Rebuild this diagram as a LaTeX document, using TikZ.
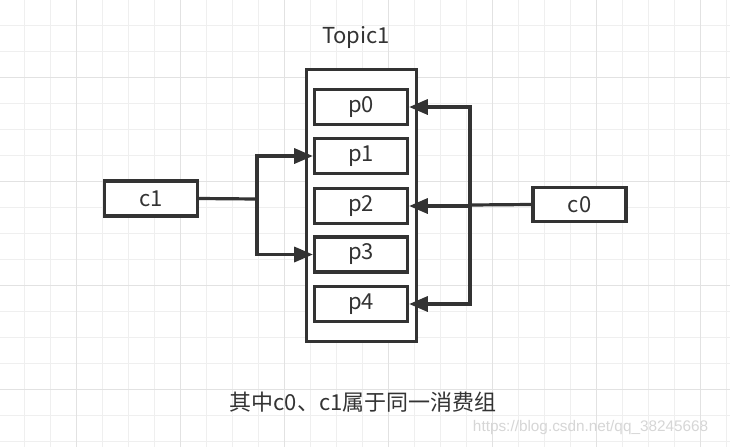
\documentclass[tikz,border=0pt]{standalone}
\usepackage{fontspec}
\setmainfont{Noto Sans CJK SC}
\newfontfamily\wmfont{Liberation Sans}
\usetikzlibrary{arrows.meta}
\definecolor{ink}{HTML}{333333}
\definecolor{gridminor}{HTML}{EFEFEF}
\definecolor{gridmajor}{HTML}{E2E2E2}
\definecolor{wmgray}{HTML}{D6D6D6}
\begin{document}
\begin{tikzpicture}[x=0.75pt,y=-0.75pt,
  lbl/.style={font=\fontsize{16.5}{18}\selectfont, text=ink},
  box/.style={draw=ink, line width=2.4pt, fill=white, inner sep=0pt,
    minimum width=69.75pt, minimum height=26.25pt, lbl},
  conn/.style={draw=ink, line width=2.4pt},
  arr/.style={conn, -{Triangle[length=14pt,width=11.25pt]}}]
\useasboundingbox (0,0) rectangle (730,447);
\fill[white] (0,0) rectangle (730,447);
% grid
\foreach \i in {0,...,27} {
  \draw[gridminor, line width=0.75pt] ({24.3+26*\i},0) -- ({24.3+26*\i},447);
}
\foreach \j in {0,...,16} {
  \draw[gridminor, line width=0.75pt] (0,{25.3+26*\j}) -- (730,{25.3+26*\j});
}
\foreach \i in {0,...,6} {
  \draw[gridmajor, line width=0.75pt] ({76.3+104*\i},0) -- ({76.3+104*\i},447);
}
\foreach \j in {0,...,3} {
  \draw[gridmajor, line width=0.75pt] (0,{77.3+104*\j}) -- (730,{77.3+104*\j});
}
% topic
\node[lbl] (title) at (356,37) {Topic1};
\node[draw=ink, line width=2.4pt, fill=white, minimum width=82.5pt, minimum height=204pt, inner sep=0pt] (topic) at (361.5,205.5) {};
\node[box] (p0) at (361,107) {p0};
\node[box] (p1) at (361,156) {p1};
\node[box] (p2) at (361,206) {p2};
\node[box] (p3) at (361,254.5) {p3};
\node[box] (p4) at (361,304) {p4};
% consumers
\node[box] (c1) at (151,198.5) {c1};
\node[box, minimum height=25.5pt] (c0) at (579.5,204.5) {c0};
\coordinate (j1) at (257,199);
\coordinate (j0) at (470,205);
\draw[conn] (c1.east) -- (j1);
\draw[arr] (j1) |- (p1.west);
\draw[arr] (j1) |- (p3.west);
\draw[conn] (c0.west) -- (j0);
\draw[arr] (j0) |- (p0.east);
\draw[arr] (j0) -- (j0 |- p2.east) -- (p2.east);
\draw[arr] (j0) |- (p4.east);
% caption
\node[lbl] (cap) at (363,402) {其中c0、c1属于同一消费组};
\node[font=\wmfont\fontsize{11.5}{13}\selectfont, text=wmgray, anchor=east] (wm) at (713,428) {https://blog.csdn.net/qq\_38245668};
\end{tikzpicture}
\end{document}
